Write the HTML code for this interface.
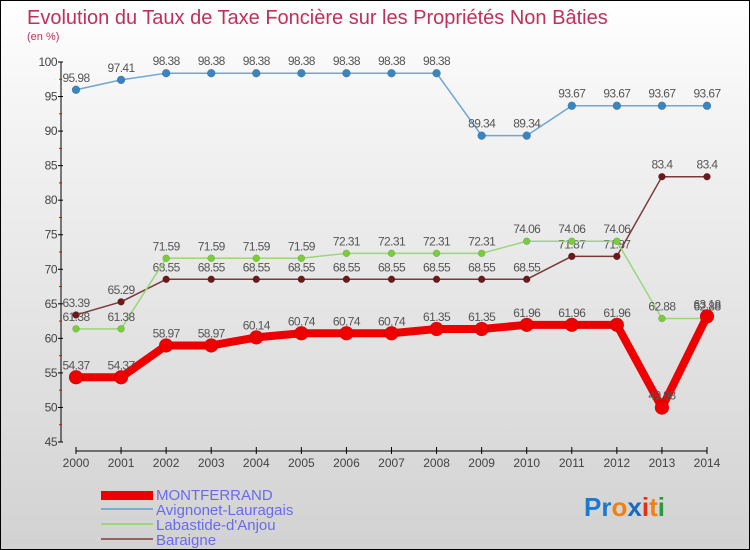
<!DOCTYPE html>
<html><head><meta charset="utf-8"><style>
body{margin:0}
#c{width:750px;height:550px;position:relative;overflow:hidden;box-sizing:border-box;border:1px solid #000;background:linear-gradient(#ffffff,#f4f4f4 20%,#d2d2d2);font-family:"Liberation Sans",sans-serif}
</style></head><body>
<div id="c">
<svg id="s" width="750" height="550" style="position:absolute;left:0;top:0">
<text x="26" y="23" font-size="20" fill="#c0305a">Evolution du Taux de Taxe Foncière sur les Propriétés Non Bâties</text>
<text x="26" y="39" font-size="11" fill="#c0305a">(en %)</text>
<g id="axes"></g><g id="series"></g>
<g>
<rect x="100" y="490" width="52" height="9" fill="#e00"/>
<text x="155" y="499" font-size="15" fill="#6a6af0">MONTFERRAND</text>
<rect x="100" y="507" width="52" height="2" fill="#7aaed0"/>
<text x="155" y="514" font-size="15" fill="#6a6af0">Avignonet-Lauragais</text>
<rect x="100" y="522" width="52" height="2" fill="#9ad67a"/>
<text x="155" y="529" font-size="15" fill="#6a6af0">Labastide-d'Anjou</text>
<rect x="100" y="537" width="52" height="2" fill="#946060"/>
<text x="155" y="544" font-size="15" fill="#6a6af0">Baraigne</text>
</g>
<text x="583" y="515" font-size="26" font-weight="bold"><tspan fill="#1a7ad0">Pr</tspan><tspan fill="#f08010">o</tspan><tspan fill="#1a6ac0">x</tspan><tspan fill="#e03010">i</tspan><tspan fill="#f08010">t</tspan><tspan fill="#2a9a40">i</tspan></text>
</svg>
</div>
<script>
const years=[2000,2001,2002,2003,2004,2005,2006,2007,2008,2009,2010,2011,2012,2013,2014];
const yTicks=[45,50,55,60,65,70,75,80,85,90,95,100];
const montferrand=[54.37,54.37,58.97,58.97,60.14,60.74,60.74,60.74,61.35,61.35,61.96,61.96,61.96,49.98,63.18];
const avignonet=[95.98,97.41,98.38,98.38,98.38,98.38,98.38,98.38,98.38,89.34,89.34,93.67,93.67,93.67,93.67];
const labastide=[61.38,61.38,71.59,71.59,71.59,71.59,72.31,72.31,72.31,72.31,74.06,74.06,74.06,62.88,62.88];
const baraigne=[63.39,65.29,68.55,68.55,68.55,68.55,68.55,68.55,68.55,68.55,68.55,71.87,71.87,83.4,83.4];
const NS='http://www.w3.org/2000/svg';
const X=i=>75+i*(706-75)/14;
const Y=v=>441-(v-45)*(380/55);
function mk(t,a,p){const e=document.createElementNS(NS,t);for(const k in a)e.setAttribute(k,a[k]);p.appendChild(e);return e;}
const ax=document.getElementById('axes');
let e=mk('line',{x1:60,y1:Y(100),x2:60,y2:Y(45),stroke:'#000'},ax);


e=mk('line',{x1:75,y1:450,x2:706,y2:450,stroke:'#000'},ax);


yTicks.forEach((v,i)=>{
 mk('line',{x1:57,y1:Y(v),x2:62,y2:Y(v),stroke:'#000'},ax);
 if(i<yTicks.length-1)mk('line',{x1:58,y1:Y(v+2.5),x2:61,y2:Y(v+2.5),stroke:'#e00'},ax);
 const t=mk('text',{x:56,y:Y(v)+4,'font-size':12,'text-anchor':'end',fill:'#444','letter-spacing':'-0.5'},ax);t.textContent=v;
 
 
});
years.forEach((y,i)=>{
 mk('line',{x1:X(i),y1:446,x2:X(i),y2:453,stroke:'#000'},ax);
 const t=mk('text',{x:X(i),y:466,'font-size':12,'text-anchor':'middle',fill:'#444'},ax);t.textContent=y;
 
 
});
const sg=document.getElementById('series');
function draw(vals,color,w,r,dot,name){
 const g=mk('g',{},sg);
 
 
 const p=mk('polyline',{points:vals.map((v,i)=>X(i)+','+Y(v)).join(' '),fill:'none',stroke:color,'stroke-width':w,'stroke-linejoin':'round'},g);
 
 
 vals.forEach((v,i)=>{
  const c=mk('circle',{cx:X(i),cy:Y(v),r:r,fill:dot,stroke:'#0003','stroke-width':0.5},g);
  
  
  const t=mk('text',{x:X(i),y:Y(v)-8,'font-size':12,'text-anchor':'middle',fill:'#555','letter-spacing':'-0.6'},g);
  t.textContent=v;
  
  
 });
}
draw(avignonet,'#6fa6d4',1.5,4,'#3a85c0','avignonet');
draw(baraigne,'#7a3a3a',1.5,3.5,'#6a1a1a','baraigne');
draw(labastide,'#9ad67a',1.5,3.5,'#7acc3a','labastide');
draw(montferrand,'#e00',8,7,'#e00','montferrand');
</script>
</body></html>
